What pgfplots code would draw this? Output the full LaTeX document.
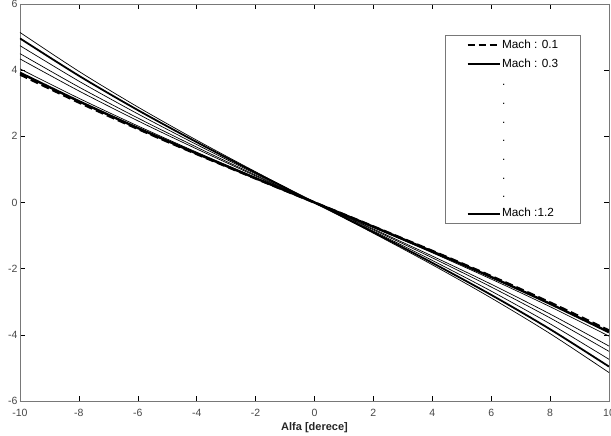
\documentclass[border=0pt]{standalone}
\usepackage{pgfplots}
\pgfplotsset{compat=1.18}
\usepackage{fontspec}
\setmainfont{Liberation Sans}
\definecolor{axgray}{RGB}{120,120,120}
\definecolor{lblgray}{RGB}{70,70,70}
\begin{document}
\begin{tikzpicture}
\begin{axis}[
  scale only axis,
  width=589pt, height=397pt,
  xmin=-10, xmax=10, ymin=-6, ymax=6,
  xtick={-10,-8,...,10}, ytick={-6,-4,...,6},
  tick align=inside,
  major tick length=5pt,
  axis line style={axgray, line width=0.9pt},
  every tick/.style={black, line width=0.6pt},
  tick label style={font=\fontsize{10.5}{12}\selectfont, text=lblgray},
  /pgf/number format/assume math mode=true,
  xlabel={\textbf{Alfa [derece]}},
  xlabel style={font=\fontsize{11}{13}\selectfont, text=black!85, yshift=1pt},
  xticklabel style={yshift=-5pt},
  yticklabel style={xshift=1pt},
  legend style={at={(0.722,0.922)}, anchor=north west, draw=axgray, line width=0.7pt,
    font=\fontsize{11.8}{14}\selectfont, inner xsep=21pt, inner ysep=4.3pt,
    row sep=7.5pt, column sep=0pt,
    nodes={inner xsep=1.5pt, inner ysep=0pt, text height=8.7pt, text depth=2.5pt},
    cells={anchor=west}},
  legend image code/.code={\draw[#1] (0pt,0pt) -- (32pt,0pt);},
]
\coordinate (sw) at (rel axis cs:0,0);
\coordinate (ne) at (rel axis cs:1,1);
% thin curves
\addplot[black, line width=0.7pt, smooth, forget plot] coordinates {(-10,5.14) (-8,3.964) (-6,2.887) (-4,1.883) (-2,0.929) (0,0) (2,-0.929) (4,-1.883) (6,-2.887) (8,-3.964) (10,-5.14)};
\addplot[black, line width=0.7pt, smooth, forget plot] coordinates {(-10,4.74) (-8,3.668) (-6,2.679) (-4,1.751) (-2,0.865) (0,0) (2,-0.865) (4,-1.751) (6,-2.679) (8,-3.668) (10,-4.74)};
\addplot[black, line width=0.7pt, smooth, forget plot] coordinates {(-10,4.50) (-8,3.490) (-6,2.554) (-4,1.672) (-2,0.827) (0,0) (2,-0.827) (4,-1.672) (6,-2.554) (8,-3.490) (10,-4.50)};
\addplot[black, line width=0.7pt, smooth, forget plot] coordinates {(-10,4.34) (-8,3.372) (-6,2.470) (-4,1.619) (-2,0.801) (0,0) (2,-0.801) (4,-1.619) (6,-2.470) (8,-3.372) (10,-4.34)};
\addplot[black, line width=0.7pt, smooth, forget plot] coordinates {(-10,4.04) (-8,3.150) (-6,2.315) (-4,1.520) (-2,0.753) (0,0) (2,-0.753) (4,-1.520) (6,-2.315) (8,-3.150) (10,-4.04)};
% thick curves
\addplot[black, line width=2.4pt, smooth, forget plot] coordinates {(-10,3.92) (-8,3.061) (-6,2.252) (-4,1.481) (-2,0.734) (0,0) (2,-0.734) (4,-1.481) (6,-2.252) (8,-3.061) (10,-3.92)};
\addplot[black, line width=2.4pt, dash pattern=on 8pt off 4pt, smooth, forget plot] coordinates {(-10,3.87) (-8,3.024) (-6,2.226) (-4,1.464) (-2,0.726) (0,0) (2,-0.726) (4,-1.464) (6,-2.226) (8,-3.024) (10,-3.87)};
\addplot[black, line width=1.8pt, smooth, forget plot] coordinates {(-10,4.96) (-8,3.831) (-6,2.793) (-4,1.824) (-2,0.900) (0,0) (2,-0.900) (4,-1.824) (6,-2.793) (8,-3.831) (10,-4.96)};
% legend
\addlegendimage{black, line width=2pt, dash pattern=on 7pt off 4pt}\addlegendentry{Mach : 0.1}
\addlegendimage{black, line width=2pt}\addlegendentry{Mach : 0.3}
\addlegendimage{empty legend}\addlegendentry{.}
\addlegendimage{empty legend}\addlegendentry{.}
\addlegendimage{empty legend}\addlegendentry{.}
\addlegendimage{empty legend}\addlegendentry{.}
\addlegendimage{empty legend}\addlegendentry{.}
\addlegendimage{empty legend}\addlegendentry{.}
\addlegendimage{empty legend}\addlegendentry{.}
\addlegendimage{black, line width=2pt}\addlegendentry{Mach :1.2}
\end{axis}
\pgfresetboundingbox
\path ([shift={(-20pt,-35pt)}]sw) rectangle ([shift={(2pt,4pt)}]ne);
\end{tikzpicture}
\end{document}
